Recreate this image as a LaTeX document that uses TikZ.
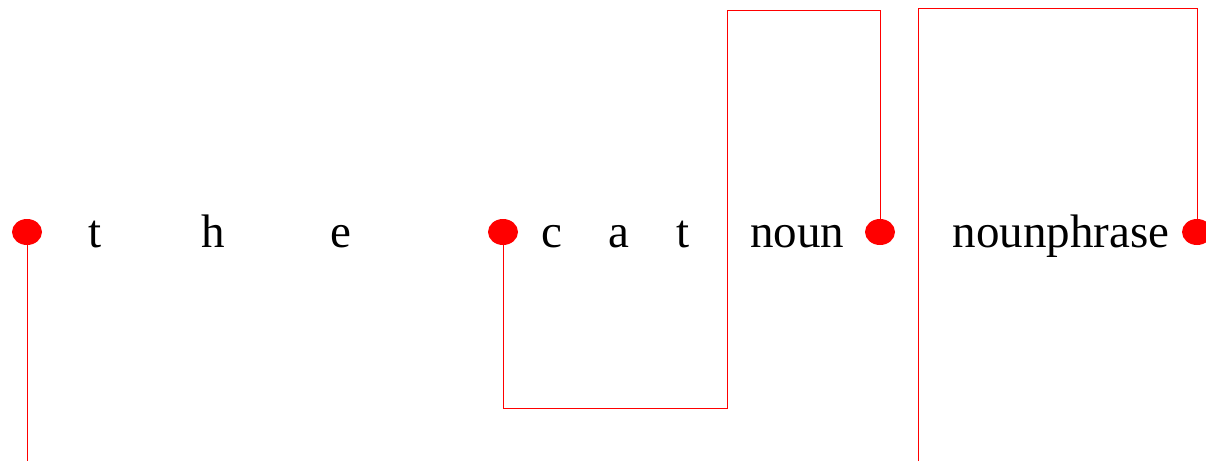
\documentclass[tikz,border=0pt]{standalone}
\usepackage{fontspec}
\setmainfont{Liberation Serif}
\usetikzlibrary{shapes.geometric}
\begin{document}
\begin{tikzpicture}[x=1pt,y=-1pt,
  dot/.style={ellipse,fill=red,draw=none,minimum width=30pt,minimum height=26pt,inner sep=0pt},
  wd/.style={anchor=base,inner sep=0pt,font=\fontsize{47}{50}\selectfont},
  lnk/.style={draw=red,line width=0.8pt}]
  \useasboundingbox (0,0) rectangle (1206,461);
  \node[dot] (d1) at (27,232){};
  \node[dot] (d2) at (503,232){};
  \node[dot] (d3) at (880,232){};
  \node[dot] (d4) at (1197,232){};
  \node[wd] (t1) at (95,247){t};
  \node[wd] (h1) at (213,247){h};
  \node[wd] (e1) at (341,247){e};
  \node[wd] (c2) at (552,247){c};
  \node[wd] (a2) at (619,247){a};
  \node[wd] (t2) at (683,247){t};
  \node[wd] (nn) at (797,247){noun};
  \node[wd] (np) at (1061,247){nounphrase};
  \coordinate (b1) at (27,461);
  \coordinate (k1) at (727,408);
  \coordinate (k2) at (880,10);
  \coordinate (m1) at (918,461);
  \coordinate (m2) at (918,8);
  \draw[lnk] (d1.south) -- (b1);
  \draw[lnk] (d2.south) |- (k1) -- (k1 |- k2) -- (k2) -- (d3.north);
  \draw[lnk] (m1) -- (m2) -| (d4.north);
\end{tikzpicture}
\end{document}
